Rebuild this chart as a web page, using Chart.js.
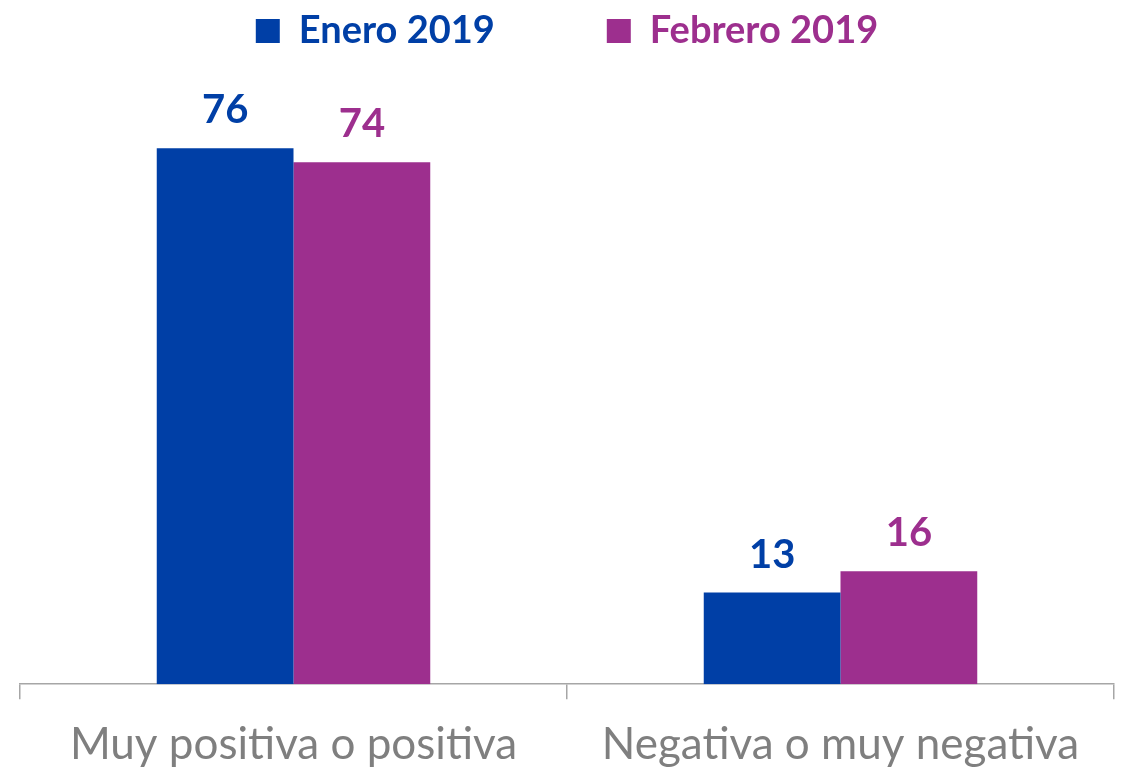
<!DOCTYPE html>
<html>
<head>
<meta charset="utf-8">
<script src="https://cdn.jsdelivr.net/npm/chart.js@4.4.1/dist/chart.umd.min.js"></script>
<style>
  html, body { margin: 0; padding: 0; background: #fff; }
  #wrap { width: 1124px; height: 770px; }
</style>
</head>
<body>
<div id="wrap"><canvas id="chart"></canvas></div>
<script>
const categories = ['Muy positiva o positiva', 'Negativa o muy negativa'];
const seriesNames = ['Enero 2019', 'Febrero 2019'];
const enero = [76, 13];
const febrero = [74, 16];
const colors = ['#003FA6', '#9D2F8E'];

// etiquetas de valor encima de cada barra
const valueLabels = {
  id: 'valueLabels',
  afterDatasetsDraw(chart) {
    const ctx = chart.ctx;
    ctx.save();
    ctx.font = 'bold 40px Lato';
    ctx.textAlign = 'center';
    ctx.textBaseline = 'alphabetic';
    chart.data.datasets.forEach((ds, i) => {
      const meta = chart.getDatasetMeta(i);
      ctx.fillStyle = ds.backgroundColor;
      meta.data.forEach((bar, j) => {
        ctx.fillText(ds.data[j], bar.x, bar.y - 25);
      });
    });
    ctx.restore();
  }
};

new Chart(document.getElementById('chart'), {
  type: 'bar',
  data: {
    labels: categories,
    datasets: [
      { label: seriesNames[0], data: enero, backgroundColor: colors[0] },
      { label: seriesNames[1], data: febrero, backgroundColor: colors[1] }
    ]
  },
  options: {
    responsive: true,
    maintainAspectRatio: false,
    animation: false,
    layout: { padding: { left: 20, right: 10, top: -100, bottom: -20 } },
    datasets: { bar: { categoryPercentage: 0.5, barPercentage: 1.0 } },
    plugins: {
      tooltip: { enabled: false },
      legend: {
        position: 'top',
        labels: {
          boxWidth: 24,
          boxHeight: 24,
          padding: 112,
          font: { family: 'Lato', size: 38, weight: 'bold', lineHeight: 1 },
          generateLabels(chart) {
            return chart.data.datasets.map((ds, i) => ({
              text: ds.label,
              fillStyle: ds.backgroundColor,
              strokeStyle: ds.backgroundColor,
              lineWidth: 0,
              fontColor: ds.backgroundColor,
              datasetIndex: i
            }));
          }
        }
      }
    },
    scales: {
      x: {
        border: { display: true, color: '#A6A6A6', width: 1.5 },
        grid: { display: true, drawOnChartArea: false, drawTicks: true, tickLength: 15, color: '#A6A6A6', lineWidth: 1.5 },
        ticks: { color: '#7F7F7F', font: { family: 'Lato', size: 44 }, padding: 19 }
      },
      y: {
        display: false,
        min: 0,
        max: 88.5
      }
    }
  },
  plugins: [valueLabels]
});
</script>
</body>
</html>
